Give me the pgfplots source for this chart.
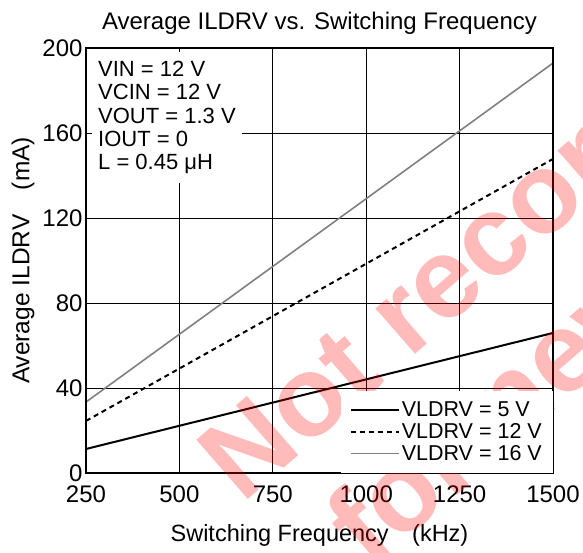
\documentclass[border=0pt]{standalone}
\usepackage{fontspec}
\setmainfont{Liberation Sans}
\usepackage{pgfplots}
\pgfplotsset{compat=1.18}
\begin{document}
\begin{tikzpicture}
\begin{axis}[
  scale only axis, width=467bp, height=425bp,
  xmin=250, xmax=1500, ymin=0, ymax=200,
  xtick={250,500,750,1000,1250,1500}, ytick={0,40,80,120,160,200},
  grid=major, major grid style={black, line width=0.8bp},
  tick style={draw=none},
  axis line style={line width=1.2bp},
  tick label style={font=\fontsize{24bp}{28bp}\selectfont},
  xticklabel style={yshift=-9bp},
  /pgf/number format/assume math mode=true,
  /pgf/number format/1000 sep={},
  title={Average ILDRV vs. Switching Frequency},
  title style={font=\fontsize{24bp}{28bp}\selectfont, yshift=4bp},
  clip=false,
  legend style={at={(rel axis cs:1,0)}, anchor=south east, draw=none, fill=white,
    font=\fontsize{21.5bp}{24bp}\selectfont, row sep=1.5bp, inner xsep=9bp, inner ysep=9bp},
  legend cell align=left,
  legend image code/.code={\draw[#1] (0bp,0bp) -- (48bp,0bp);},
]
\node[anchor=north west, fill=white, align=left, inner xsep=6bp, inner ysep=9bp,
  xshift=6bp, yshift=-4bp,
  font=\fontsize{22bp}{23.3bp}\selectfont] at (rel axis cs:0,1)
  {VIN = 12 V\\VCIN = 12 V\\VOUT = 1.3 V\\IOUT = 0\\L = 0.45 μH};
\addplot[black, line width=2bp] coordinates {(250,11.3) (1500,65.9)};
\addlegendentry{VLDRV = 5 V}
\addplot[black, line width=2bp, dash pattern=on 5bp off 4bp] coordinates {(250,24.5) (1500,147.8)};
\addlegendentry{VLDRV = 12 V}
\addplot[gray, line width=1.6bp] coordinates {(250,33.4) (1500,192.9)};
\addlegendentry{VLDRV = 16 V}
\draw[line width=1.2bp] (rel axis cs:0,0) rectangle (rel axis cs:1,1);
\node[font=\fontsize{23.5bp}{28bp}\selectfont] at (axis cs:875,-29.2) {Switching Frequency\quad(kHz)};
\node[rotate=90, font=\fontsize{24.5bp}{28bp}\selectfont] at (axis cs:81.4,100) {Average ILDRV\quad(mA)};
\node[rotate=41, anchor=base west, text=red, opacity=0.27, font=\fontsize{114bp}{114bp}\selectfont\bfseries, inner sep=0pt] at (axis cs:668,-15) {Not recommended};
\node[rotate=41, anchor=base west, text=red, opacity=0.27, font=\fontsize{114bp}{114bp}\selectfont\bfseries, inner sep=0pt] at (axis cs:1010,-46) {for new designs};
\end{axis}
\pgfresetboundingbox
\path[use as bounding box] (current axis.south west) ++(-86bp,-80bp) rectangle ([xshift=30bp,yshift=48bp]current axis.north east);
\end{tikzpicture}
\end{document}
